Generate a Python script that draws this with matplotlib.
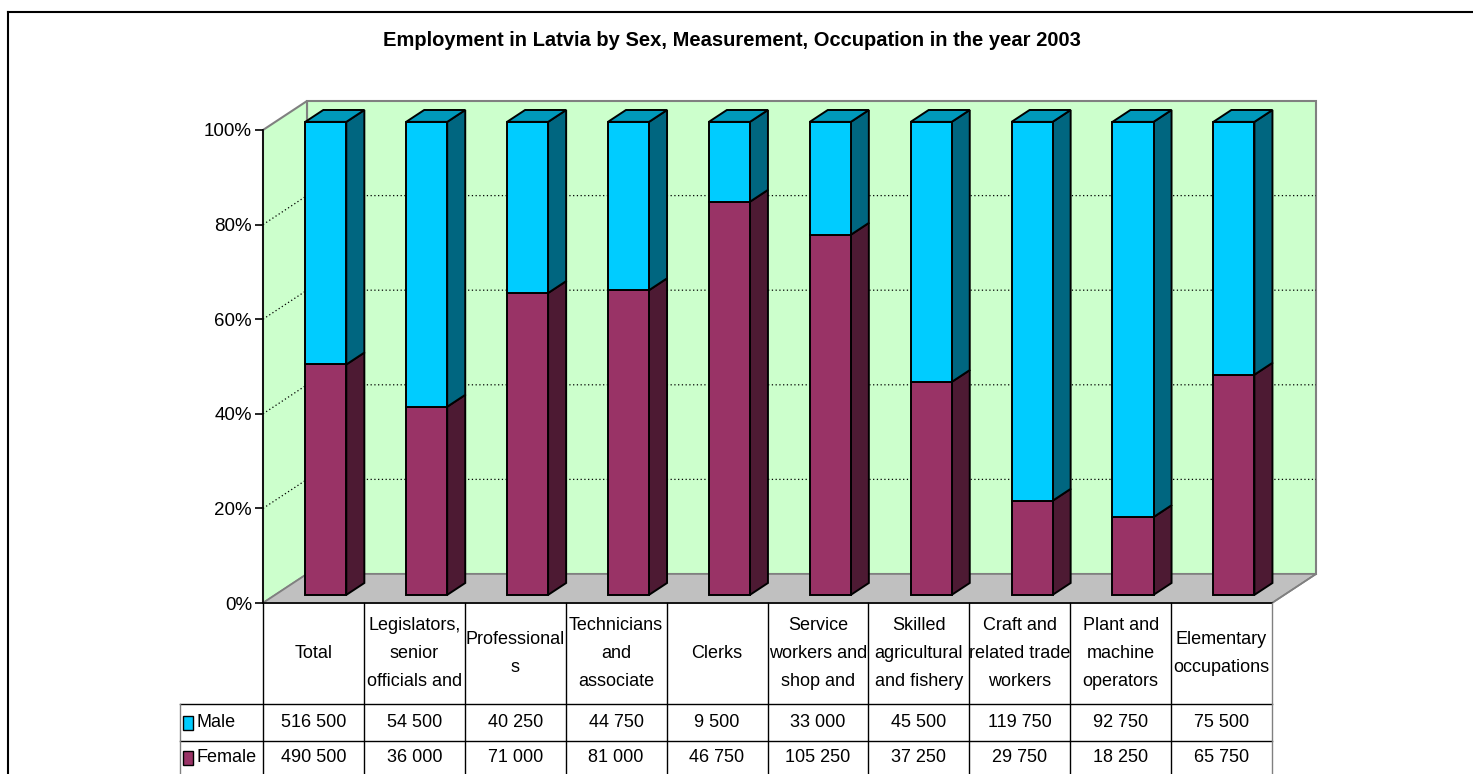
import numpy as np
import matplotlib
matplotlib.use("Agg")
import matplotlib.pyplot as plt
from matplotlib.patches import Polygon, Rectangle
from matplotlib.lines import Line2D

categories = ["Total", "Legislators,\nsenior\nofficials and", "Professional\ns",
              "Technicians\nand\nassociate", "Clerks", "Service\nworkers and\nshop and",
              "Skilled\nagricultural\nand fishery", "Craft and\nrelated trade\nworkers",
              "Plant and\nmachine\noperators", "Elementary\noccupations"]
male = [516500, 54500, 40250, 44750, 9500, 33000, 45500, 119750, 92750, 75500]
female = [490500, 36000, 71000, 81000, 46750, 105250, 37250, 29750, 18250, 65750]
yticks = [0, 0.2, 0.4, 0.6, 0.8, 1.0]
ytick_labels = ["0%", "20%", "40%", "60%", "80%", "100%"]

W, H = 1473, 774
FONT = ["Liberation Sans Narrow", "Liberation Sans", "DejaVu Sans"]
plt.rcParams["font.family"] = FONT

fig = plt.figure(figsize=(W / 100, H / 100), dpi=100)

def px(x0, y0, x1, y1):
    return [x0 / W, 1 - y1 / H, (x1 - x0) / W, (y1 - y0) / H]

# front plane of the 3D box
ax = fig.add_axes(px(263, 130, 1272, 603))
ax.set_xlim(0, 10)
ax.set_ylim(0, 1)
for s in ax.spines.values():
    s.set_visible(False)
ax.set_xticks([])
ax.set_yticks(yticks)
ax.set_yticklabels(ytick_labels, fontsize=13.5)
ax.tick_params(axis="y", length=6, width=1.2, pad=2)
ax.patch.set_visible(False)

# depth vector in data units
DX, DY = 44 / 100.9, 29 / 473.0

def P(x, y, z):
    return (x + z * DX, y + z * DY)

def poly(pts, fc, ec="black", lw=1.4, z=2, ls="-"):
    ax.add_patch(Polygon(pts, closed=True, facecolor=fc, edgecolor=ec, linewidth=lw,
                         zorder=z, clip_on=False, linestyle=ls))

# walls
green = "#CCFFCC"
poly([P(0, 0, 1), P(10, 0, 1), P(10, 1, 1), P(0, 1, 1)], green, ec="#808080", lw=1.5, z=1)
poly([P(0, 0, 0), P(0, 0, 1), P(0, 1, 1), P(0, 1, 0)], green, ec="#808080", lw=1.5, z=1)
poly([P(0, 0, 0), P(10, 0, 0), P(10, 0, 1), P(0, 0, 1)], "#C0C0C0", ec="#808080", lw=1.2, z=1.1)
ax.plot([0, 0], [0, 1], color="black", lw=1.2, zorder=1.2, clip_on=False)

for t in yticks[1:-1]:
    a, b = P(0, t, 0), P(0, t, 1)
    c = P(10, t, 1)
    ax.plot([a[0], b[0], c[0]], [a[1], b[1], c[1]], color="black", lw=0.9,
            ls=(0, (1, 2)), zorder=1.5, clip_on=False)

# bars
tot = np.array(male, float) + np.array(female, float)
fshare = np.array(female) / tot
z0, z1 = 0.28, 0.69
bw = 0.407
for i in range(len(categories)):
    x0 = i + 0.5 - bw / 2
    x1 = x0 + bw
    segs = [(0, fshare[i], "#993366", "#4D1A33", "#7A2952"),
            (fshare[i], 1.0, "#00CCFF", "#006680", "#0099BB")]
    for lo, hi, front, side, top in segs:
        poly([P(x1, lo, z0), P(x1, lo, z1), P(x1, hi, z1), P(x1, hi, z0)], side, z=3)
        poly([P(x0, lo, z0), P(x1, lo, z0), P(x1, hi, z0), P(x0, hi, z0)], front, z=3)
        if hi == 1.0:
            poly([P(x0, hi, z0), P(x1, hi, z0), P(x1, hi, z1), P(x0, hi, z1)], top, z=3)

# data table
tax = fig.add_axes(px(263, 603, 1272, 774))
tax.set_xlim(0, 10)
tax.set_ylim(171, 0)
tax.axis("off")
hdr_b, male_b, fem_b = 101, 138, 173
lc = "black"
tax.plot([0, 10], [0, 0], color=lc, lw=1.2, clip_on=False)
left = -83 / 100.9
for y in [hdr_b, male_b]:
    tax.plot([left, 10], [y, y], color=lc, lw=1.0, clip_on=False)
for i in range(11):
    tax.plot([i, i], [0, fem_b], color=lc if i < 10 else "#808080", lw=1.0, clip_on=False)
tax.plot([left, left], [hdr_b, fem_b], color="#808080", lw=1.0, clip_on=False)
# slanted edge at the right of the floor
r0, r1 = P(10, 0, 0), P(10, 0, 1)
ax.plot([r0[0], r1[0]], [r0[1], r1[1]], color="#808080", lw=1.2, zorder=1.2, clip_on=False)

def fmt(v):
    return f"{v:,}".replace(",", " ")

for i, c in enumerate(categories):
    tax.text(i + 0.5, hdr_b / 2, c, ha="center", va="center", fontsize=13,
             linespacing=1.85, clip_on=False)
    tax.text(i + 0.5, (hdr_b + male_b) / 2, fmt(male[i]), ha="center", va="center",
             fontsize=13, clip_on=False)
    tax.text(i + 0.5, (male_b + fem_b) / 2 - 1, fmt(female[i]), ha="center", va="center",
             fontsize=13, clip_on=False)

for (name, col, yb, yt) in [("Male", "#00CCFF", hdr_b, male_b), ("Female", "#993366", male_b, fem_b)]:
    ym = (yb + yt) / 2 - (1 if name == "Female" else 0)
    tax.add_patch(Rectangle((left + 0.03, ym - 7), 0.1, 14, facecolor=col,
                            edgecolor="black", lw=1.0, clip_on=False))
    tax.text(left + 0.165, ym, name, ha="left", va="center", fontsize=13, clip_on=False)

# title and outer frame
fig.text(732 / W, 1 - 40 / H, "Employment in Latvia by Sex, Measurement, Occupation in the year 2003",
         ha="center", va="center", fontsize=14.5, fontweight="bold")
fig.add_artist(Line2D([8 / W, 1], [1 - 12 / H, 1 - 12 / H], color="black", lw=1.5))
fig.add_artist(Line2D([8 / W, 8 / W], [0, 1 - 12 / H], color="black", lw=1.5))

fig.savefig("out.png", dpi=100)
